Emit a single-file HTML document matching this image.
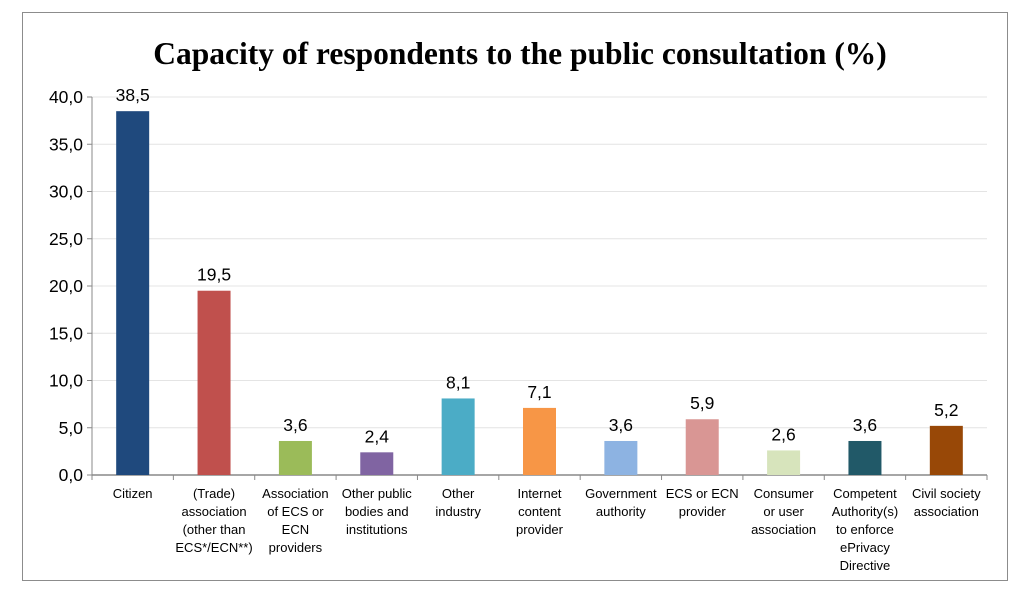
<!DOCTYPE html>
<html><head><meta charset="utf-8"><style>
body{margin:0;background:#fff;width:1024px;height:599px;overflow:hidden;font-family:"Liberation Sans",sans-serif}
#frame{position:absolute;left:22px;top:12px;width:986px;height:569px;border:1.5px solid #8c8c8c;box-sizing:border-box}
</style></head><body>
<div id="frame"></div>
<svg id="c" width="1024" height="599" style="position:absolute;left:0;top:0"></svg>
<script>
const categories=[["Citizen"],["(Trade)","association","(other than","ECS*/ECN**)"],["Association","of ECS or","ECN","providers"],["Other public","bodies and","institutions"],["Other","industry"],["Internet","content","provider"],["Government","authority"],["ECS or ECN","provider"],["Consumer","or user","association"],["Competent","Authority(s)","to enforce","ePrivacy","Directive"],["Civil society","association"]];
const values=[38.5,19.5,3.6,2.4,8.1,7.1,3.6,5.9,2.6,3.6,5.2];
const colors=["#1f497d","#c0504d","#9bbb59","#8064a2","#4bacc6","#f79646","#8db3e2","#d99694","#d7e4bc","#215968","#984807"];
const ticks=[0,5,10,15,20,25,30,35,40];
const svg=document.getElementById('c');
const NS='http://www.w3.org/2000/svg';
const x0=92,x1=987,y0=475,yTop=97,yMax=40;
const y=v=>y0-(v/yMax)*(y0-yTop);
const cw=(x1-x0)/categories.length;
const fmt=v=>v.toFixed(1).replace('.',',');
function mk(t,a){const e=document.createElementNS(NS,t);for(const k in a)e.setAttribute(k,a[k]);svg.appendChild(e);return e;}
const title=mk('text',{x:520,y:64,'text-anchor':'middle','font-family':'Liberation Serif, serif','font-weight':'bold','font-size':31.5,fill:'#000'});
title.textContent='Capacity of respondents to the public consultation (%)';


ticks.forEach(t=>{
 if(t>0){const g=mk('line',{x1:x0,x2:x1,y1:y(t),y2:y(t),stroke:'#e4e4e4','stroke-width':1});
 
 }
 const tm=mk('line',{x1:x0-5,x2:x0,y1:y(t),y2:y(t),stroke:'#888'});
 
 
 const l=mk('text',{x:x0-9,y:y(t)+6,'text-anchor':'end','font-size':17.5,fill:'#000'});
 l.textContent=fmt(t);
 
 
});
const ya=mk('line',{x1:x0,x2:x0,y1:yTop,y2:y0,stroke:'#888'});


const xa=mk('line',{x1:x0,x2:x1,y1:y0,y2:y0,stroke:'#888','stroke-width':1.5});


for(let i=0;i<=categories.length;i++){
 const tk=mk('line',{x1:x0+i*cw,x2:x0+i*cw,y1:y0,y2:y0+5,stroke:'#888'});
 
 
}
values.forEach((v,i)=>{
 const cx=x0+(i+0.5)*cw,bw=33;
 const b=mk('rect',{x:cx-bw/2,y:y(v),width:bw,height:y0-y(v),fill:colors[i]});
 
 
 const l=mk('text',{x:cx,y:y(v)-10,'text-anchor':'middle','font-size':17.5,fill:'#000'});
 l.textContent=fmt(v);
 
 
 categories[i].forEach((line,j)=>{
  const t=mk('text',{x:cx,y:498+j*18,'text-anchor':'middle','font-size':13,fill:'#000'});
  t.textContent=line;
  
  
 });
});
</script>
</body></html>
